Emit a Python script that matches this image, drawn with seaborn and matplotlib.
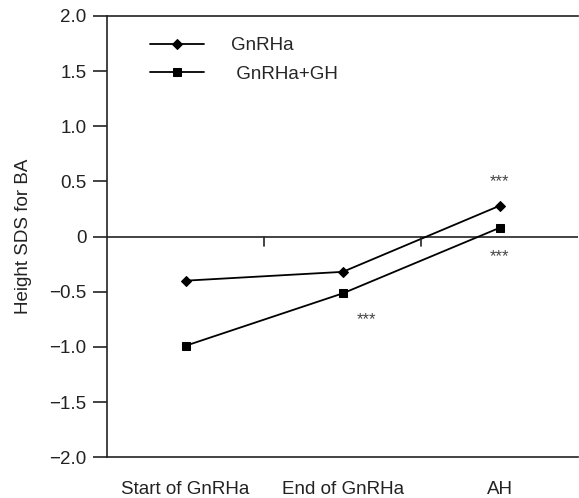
import matplotlib
matplotlib.use("Agg")
import matplotlib.pyplot as plt
import seaborn as sns
import pandas as pd

# données
categories = ["Start of GnRHa", "End of GnRHa", "AH"]
gnrha = [-0.40, -0.32, 0.28]
gnrha_gh = [-0.99, -0.515, 0.08]
series_names = ["GnRHa", " GnRHa+GH"]
y_ticks = [-2.0, -1.5, -1.0, -0.5, 0.0, 0.5, 1.0, 1.5, 2.0]
y_tick_labels = ["\u22122.0", "\u22121.5", "\u22121.0", "\u22120.5", "0", "0.5", "1.0", "1.5", "2.0"]
# étoiles de significativité (position x en catégorie, y)
stars_x = [2.0, 2.0, 1.15]
stars_y = [0.50, -0.18, -0.75]

df = pd.DataFrame({
    "x": list(range(len(categories))) * 2,
    "y": gnrha + gnrha_gh,
    "group": [series_names[0]] * 3 + [series_names[1]] * 3,
})

sns.set_theme(style="white")
plt.rcParams["font.family"] = ["Liberation Sans", "DejaVu Sans"]

fig, ax = plt.subplots(figsize=(5.79, 4.98), dpi=100)
fig.subplots_adjust(left=0.185, right=0.999, top=0.968, bottom=0.082)

sns.lineplot(data=df, x="x", y="y", style="group", hue="group",
             palette={series_names[0]: "black", series_names[1]: "black"},
             markers={series_names[0]: "D", series_names[1]: "s"},
             dashes=False, markersize=5.5, linewidth=1.3, ax=ax,
             markeredgecolor="black")

# axe horizontal à zéro, avec les petites graduations entre catégories
ax.axhline(0, color="#222222", linewidth=1.2, zorder=1)
for xm in [0.5, 1.5]:
    ax.plot([xm, xm], [0, -0.09], color="#222222", linewidth=1.2)

for sx, sy in zip(stars_x, stars_y):
    ax.text(sx, sy, "***", ha="center", va="center", fontsize=12, color="#444444")

ax.set_xlim(-0.5, 2.5)
ax.set_ylim(-2.0, 2.0)
ax.set_xticks(range(len(categories)))
ax.set_xticklabels(categories, fontsize=13.5)
ax.set_yticks(y_ticks)
ax.set_yticklabels(y_tick_labels, fontsize=13.5)
ax.tick_params(axis="x", length=0, pad=17, colors="#222222")
ax.tick_params(axis="y", length=10, width=1.2, direction="out", pad=5, left=True, colors="#222222")
ax.set_xlabel("")
ax.set_ylabel("Height SDS for BA", fontsize=13.5, labelpad=12, color="#222222")

for side in ["left", "top", "bottom"]:
    ax.spines[side].set_visible(True)
    ax.spines[side].set_color("#222222")
    ax.spines[side].set_linewidth(1.2)
ax.spines["right"].set_visible(False)

leg = ax.legend(loc="upper left", bbox_to_anchor=(0.055, 0.99), frameon=False,
                fontsize=13.5, handlelength=2.9, handletextpad=1.4, labelspacing=0.6)

fig.savefig("out.png", dpi=100)
